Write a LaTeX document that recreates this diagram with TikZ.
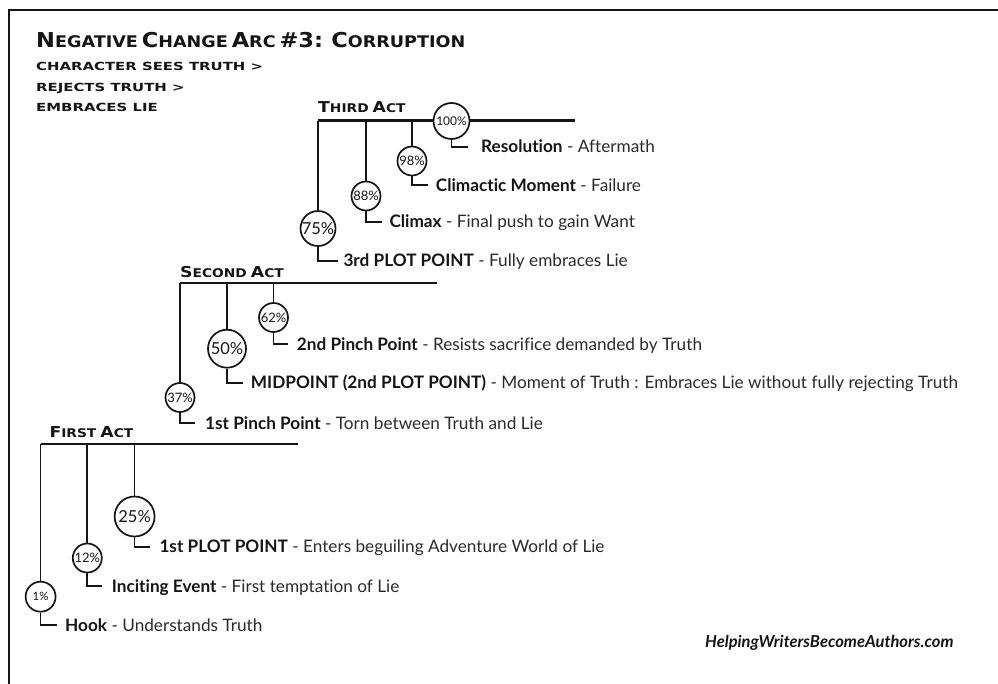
\documentclass[tikz,border=0pt]{standalone}
\usepackage{fontspec}
\setmainfont{Lato}[Ligatures=NoCommon]
\newfontfamily\copfont{DejaVu Sans}[FakeStretch=1.1]
\newfontfamily\subfont{DejaVu Sans}[FakeStretch=1.33]
\newfontfamily\actfont{DejaVu Sans}[FakeStretch=1.15]
\newcommand\bigc[1]{{\fontsize{20.5}{20.5}\selectfont #1}}
\newcommand\smc[1]{{\fontsize{16}{16}\selectfont #1}}
\newcommand\abig[1]{{\fontsize{15}{15}\selectfont #1}}
\newcommand\asm[1]{{\fontsize{12}{12}\selectfont #1}}
\definecolor{ink}{HTML}{151515}
\definecolor{desc}{HTML}{2A2A2A}
\begin{document}
\begin{tikzpicture}[x=1pt,y=-1pt,
  actline/.style={line width=2.6pt, draw=ink},
  dropline/.style={line width=1.7pt, draw=ink},
  pct/.style={circle, draw=ink, line width=1.7pt, fill=white, inner sep=0pt, text=ink},
  pctS/.style={pct, minimum size=29pt, font=\fontsize{13}{13}\selectfont},
  pctL/.style={pct, minimum size=38pt, font=\fontsize{16.5}{16.5}\selectfont},
  lbl/.style={anchor=west, inner xsep=0pt, inner ysep=0pt, text height=12.5pt, text depth=0pt, text=desc, font=\fontsize{17.2}{20}\selectfont},
  act/.style={anchor=base west, inner sep=0pt, text=ink, font=\actfont\bfseries},
  sub/.style={anchor=base west, inner sep=0pt, text=ink, font=\subfont\bfseries\fontsize{11.2}{11.2}\selectfont},
]
\useasboundingbox (0,0) rectangle (998,684);
\draw[line width=2pt, ink] (9,684) -- (9,10) -- (998,10);

% title
\node[anchor=base west, inner sep=0pt, text=ink, font=\copfont\bfseries] (title) at (36,48) {\bigc{N}\smc{EGATIVE} \bigc{C}\smc{HANGE} \bigc{A}\smc{RC} \bigc{\#3:}\smc{ }\bigc{C}\smc{ORRUPTION}};
\node[sub] (s1) at (36,71) {CHARACTER SEES TRUTH >};
\node[sub] (s2) at (36,92) {REJECTS TRUTH >};
\node[sub] (s3) at (36,112) {EMBRACES LIE};

% ---------- Third act
\node[act] (act3) at (318,112.7) {\abig{T}\asm{HIRD} \abig{A}\asm{CT}};
\coordinate (t3s) at (318,120.7);
\coordinate (t3e) at (575,120.7);
\draw[actline] (t3s) -- (t3e);
\node[pctL, minimum size=35pt] (c75) at (318,228.5) {75\%};
\node[pctS] (c88) at (366,196) {88\%};
\node[pctS] (c98) at (412,161) {98\%};
\draw[dropline] (t3s) -- (c75);
\draw[dropline] (c88 |- t3s) -- (c88);
\draw[dropline] (c98 |- t3s) -- (c98);
\node[pct, minimum size=36pt, font=\fontsize{12}{12}\selectfont] (c100) at (451.5,121) {100\%};

\node[lbl] (l100) at (481,146.7) {\textbf{\color{ink}Resolution} - Aftermath};
\node[lbl] (l98) at (435.7,185) {\textbf{\color{ink}Climactic Moment} - Failure};
\node[lbl] (l88) at (389.3,221.7) {\textbf{\color{ink}Climax} - Final push to gain Want};
\node[lbl] (l75) at (343.3,260.7) {\textbf{\color{ink}3rd PLOT POINT} - Fully embraces Lie};
\draw[dropline] (c100.south) |- ([xshift=-13pt]l100.west);
\draw[dropline] (c98.south) |- ([xshift=-7.4pt]l98.west);
\draw[dropline] (c88.south) |- ([xshift=-7pt]l88.west);
\draw[dropline] (c75.south) |- ([xshift=-5pt]l75.west);

% ---------- Second act
\node[act] (act2) at (180,277.7) {\abig{S}\asm{ECOND} \abig{A}\asm{CT}};
\coordinate (t2s) at (180,283);
\coordinate (t2e) at (436.7,283);
\draw[actline] (t2s) -- (t2e);
\node[pctS] (c37) at (180,397.5) {37\%};
\node[pctL] (c50) at (227,348.7) {50\%};
\node[pctS] (c62) at (273.5,317.5) {62\%};
\draw[dropline] (t2s) -- (c37);
\draw[dropline] (c50 |- t2s) -- (c50);
\draw[dropline] (c62 |- t2s) -- (c62);
\node[lbl] (l62) at (296.7,344.3) {\textbf{\color{ink}2nd Pinch Point} - Resists sacrifice demanded by Truth};
\node[lbl] (l50) at (250.7,382.7) {\textbf{\color{ink}MIDPOINT (2nd PLOT POINT)} - Moment of Truth : Embraces Lie without fully rejecting Truth};
\node[lbl] (l37) at (205,423.3) {\textbf{\color{ink}1st Pinch Point} - Torn between Truth and Lie};
\draw[dropline] (c62.south) |- ([xshift=-8.4pt]l62.west);
\draw[dropline] (c50.south) |- ([xshift=-8pt]l50.west);
\draw[dropline] (c37.south) |- ([xshift=-10pt]l37.west);

% ---------- First act
\node[act] (act1) at (49.3,437.3) {\abig{F}\asm{IRST} \abig{A}\asm{CT}};
\coordinate (t1s) at (40.6,444);
\coordinate (t1e) at (298.3,444);
\draw[actline] (t1s) -- (t1e);
\node[pctS, minimum size=30pt, font=\fontsize{11.5}{11.5}\selectfont] (c1) at (40.6,596.7) {1\%};
\node[pctS] (c12) at (87.3,558) {12\%};
\node[pctL, minimum size=40pt] (c25) at (134.6,516.5) {25\%};
\draw[dropline] (t1s) -- (c1);
\draw[dropline] (c12 |- t1s) -- (c12);
\draw[dropline] (c25 |- t1s) -- (c25);
\node[lbl] (l25) at (159.3,546.7) {\textbf{\color{ink}1st PLOT POINT} - Enters beguiling Adventure World of Lie};
\node[lbl] (l12) at (111.7,586) {\textbf{\color{ink}Inciting Event} - First temptation of Lie};
\node[lbl] (l1) at (65,625) {\textbf{\color{ink}Hook} - Understands Truth};
\draw[dropline] (c25.south) |- ([xshift=-9.3pt]l25.west);
\draw[dropline] (c12.south) |- ([xshift=-9.4pt]l12.west);
\draw[dropline] (c1.south) |- ([xshift=-8.3pt]l1.west);

% footer
\node[anchor=base west, inner sep=0pt, text=ink, font=\fontsize{16.5}{16.5}\selectfont\bfseries\itshape] (foot) at (705,647) {HelpingWritersBecomeAuthors.com};
\end{tikzpicture}
\end{document}
